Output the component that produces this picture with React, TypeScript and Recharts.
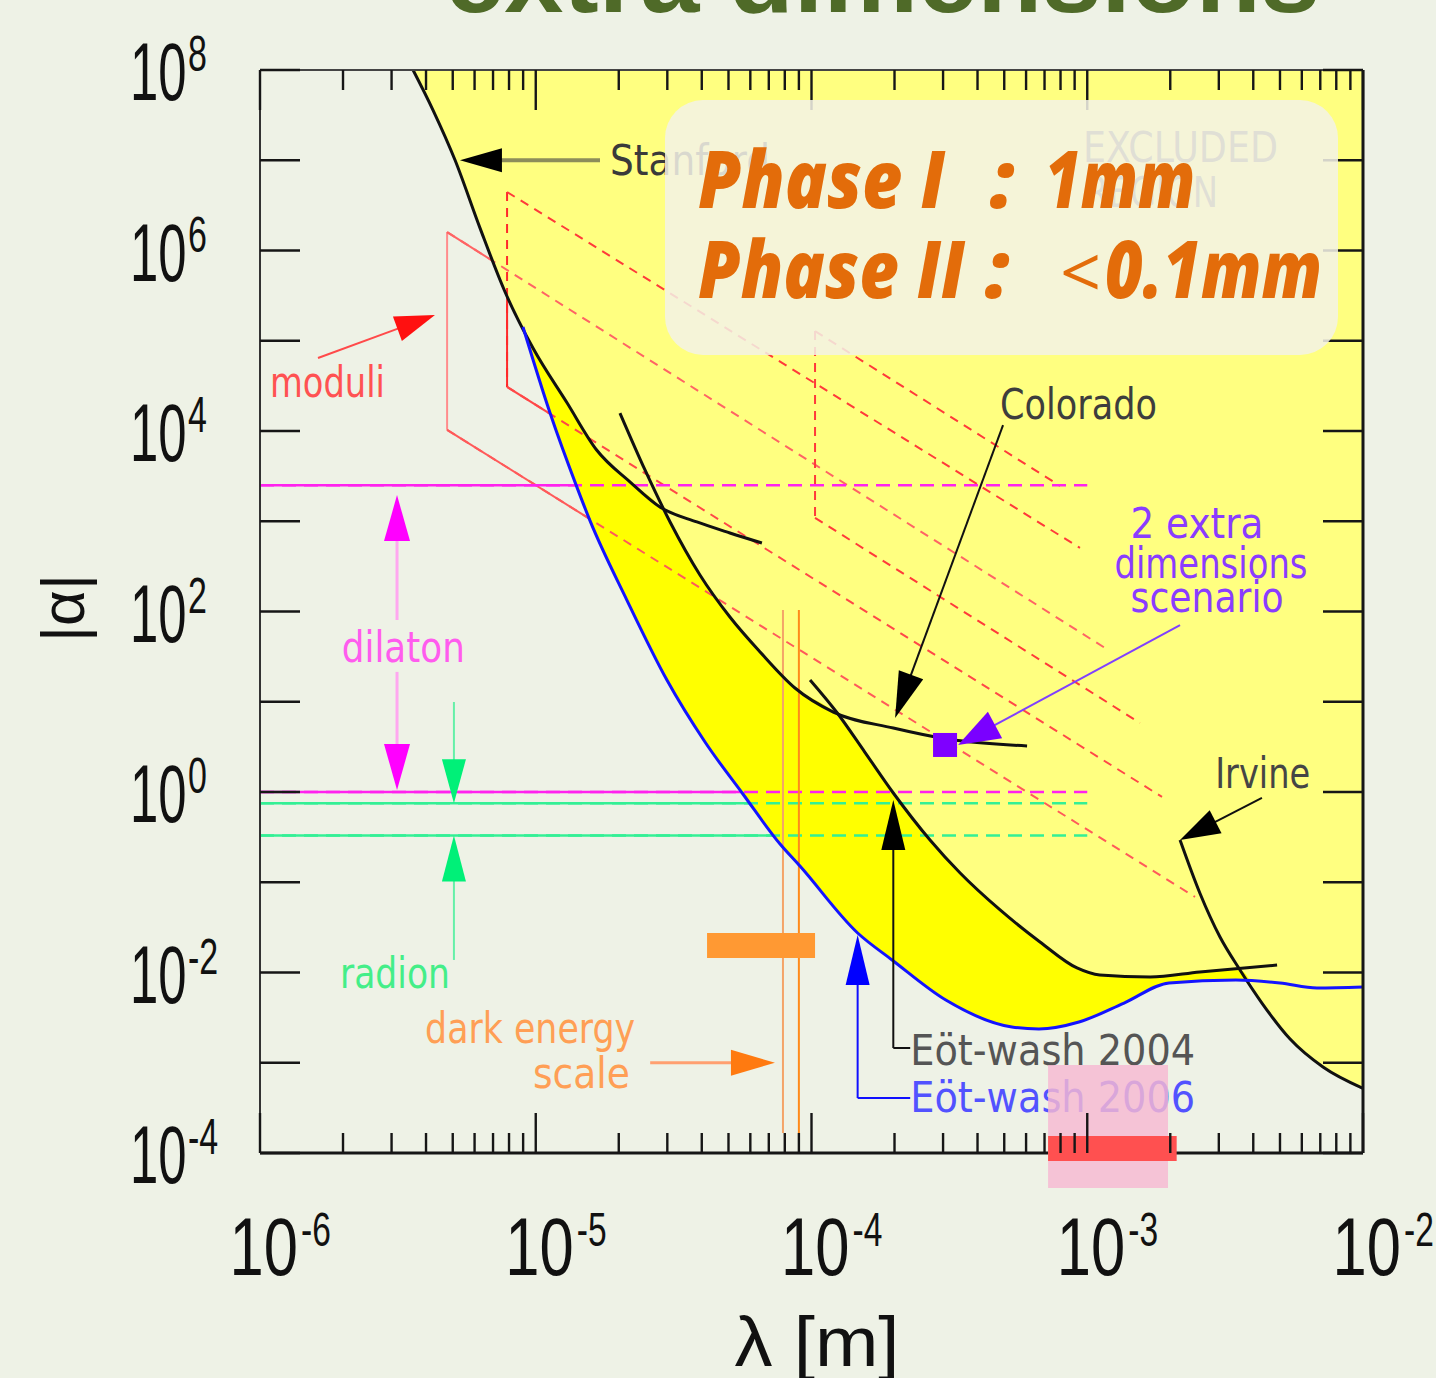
import React from 'react';
import {
  ComposedChart, Line, Area, Scatter, XAxis, YAxis,
  ReferenceLine, ReferenceDot, ReferenceArea,
} from 'recharts';

// ---- limit curves: lambda [m] vs |alpha| ----
const stanfordLam = [3.59e-6, 4.24e-6, 5.10e-6, 6.28e-6, 7.74e-6, 9.77e-6, 1.30e-5, 1.66e-5, 2.20e-5, 2.82e-5, 3.84e-5, 5.06e-5, 6.61e-5];
const stanfordAlpha = [1e8, 3.6e7, 1.0e7, 1.77e6, 3.47e5, 8.3e4, 2.04e4, 6.2e3, 2.72e3, 1.44e3, 982, 741, 574];

const coloradoLam = [2.02e-5, 2.49e-5, 3.07e-5, 3.94e-5, 5.06e-5, 6.51e-5, 8.71e-5, 1.20e-4, 1.98e-4, 3.10e-4, 6.05e-4];
const coloradoAlpha = [1.58e4, 3.70e3, 982, 254, 86.9, 35.6, 14.2, 7.69, 5.12, 3.87, 3.24];

const eotWash04Lam = [9.88e-5, 1.24e-4, 1.56e-4, 1.98e-4, 2.69e-4, 3.46e-4, 4.83e-4, 6.74e-4, 9.18e-4, 1.11e-3, 1.69e-3, 2.56e-3, 4.88e-3];
const eotWash04Alpha = [17.4, 7.5, 2.77, 0.975, 0.294, 0.1265, 0.0493, 0.0218, 0.01122, 0.00938, 0.00891, 0.01014, 0.01211];

const irvineLam = [2.17e-3, 2.56e-3, 3.03e-3, 3.58e-3, 4.30e-3, 5.44e-3, 7.16e-3, 1e-2];
const irvineAlpha = [0.294, 0.076, 0.0247, 0.01067, 0.00459, 0.00183, 8.97e-4, 5.2e-4];

const eotWash06Lam = [8.99e-6, 1.127e-5, 1.41e-5, 1.57e-5, 2.14e-5, 2.99e-5, 4.11e-5, 5.64e-5, 7.69e-5, 9.08e-5, 1.47e-4, 1.96e-4, 3.07e-4, 5.33e-4, 6.68e-4, 9.33e-4, 1.36e-3, 1.98e-3, 3.46e-3, 5.0e-3, 6.81e-3, 1e-2];
const eotWash06Alpha = [1.42e5, 1.58e4, 2.39e3, 1.03e3, 134, 17.4, 3.58, 0.95, 0.265, 0.151, 0.0274, 0.01377, 0.00495, 0.00249, 0.00237, 0.00283, 0.00459, 0.00766, 0.00826, 0.00766, 0.00673, 0.0069];

// lower edge of the previously excluded region (outer envelope of the black curves)
const excludedLam = [3.59e-6, 4.24e-6, 5.10e-6, 6.28e-6, 7.74e-6, 9.77e-6, 1.30e-5, 1.66e-5, 2.20e-5, 2.82e-5, 3.07e-5, 3.94e-5, 5.06e-5, 6.51e-5, 8.71e-5, 1.20e-4, 1.56e-4, 1.98e-4, 2.69e-4, 3.46e-4, 4.83e-4, 6.74e-4, 9.18e-4, 1.11e-3, 1.69e-3, 2.56e-3, 3.03e-3, 3.58e-3, 4.30e-3, 5.44e-3, 7.16e-3, 1e-2];
const excludedAlpha = [1e8, 3.6e7, 1.0e7, 1.77e6, 3.47e5, 8.3e4, 2.04e4, 6.2e3, 2.72e3, 1.44e3, 982, 254, 86.9, 35.6, 14.2, 7.69, 2.77, 0.975, 0.294, 0.1265, 0.0493, 0.0218, 0.01122, 0.00938, 0.00891, 0.01014, 0.0105, 0.01067, 0.00459, 0.00183, 8.97e-4, 5.2e-4];

// 2 extra dimensions scenario point
const scenarioLam = [3.05e-4];
const scenarioAlpha = [3.32];

// theory predictions
const dilatonAlpha = [2.5e3, 1];
const radionAlpha = [0.75, 0.33];
const predictionLamRange = [1e-6, 1e-3];
const darkEnergyLam = [7.88e-5, 9.0e-5];
const darkEnergyAlphaRange = [1.67e-4, 104];

// moduli / 2-extra-dimension band edges
const bandFromLam = [4.77e-6, 4.77e-6, 7.87e-6, 7.87e-6, 7.87e-6, 4.77e-6, 1.03e-4, 1.03e-4, 1.03e-4];
const bandFromAlpha = [1.6e6, 1.6e6, 4.45e6, 4.45e6, 3.08e4, 1.03e4, 1.28e5, 1.28e5, 1.09e3];
const bandToLam = [4.77e-6, 1.16e-3, 7.87e-6, 9.41e-4, 1.867e-3, 2.46e-3, 1.03e-4, 7.97e-4, 1.553e-3];
const bandToAlpha = [1.03e4, 39.4, 3.08e4, 506, 0.881, 0.0687, 1.09e3, 2.46e3, 5.82];

// annotation arrows (tail -> tip)
const arrowFromLam = [1.71e-5, 1.623e-6, 3.14e-6, 3.14e-6, 5.05e-6, 5.05e-6, 2.6e-5, 4.95e-4, 2.17e-3, 4.3e-3, 1.98e-4, 1.47e-4];
const arrowFromAlpha = [1.0e7, 6.44e4, 80.5, 21.4, 9.93, 0.01377, 1.0e-3, 1.16e4, 70.8, 0.859, 1.456e-3, 4.07e-4];
const arrowToLam = [5.31e-6, 4.31e-6, 3.14e-6, 3.14e-6, 5.05e-6, 5.05e-6, 7.37e-5, 2.01e-4, 3.4e-4, 2.17e-3, 1.98e-4, 1.47e-4];
const arrowToAlpha = [1.0e7, 1.93e5, 1.95e3, 1.05, 0.75, 0.33, 1.0e-3, 6.61, 3.32, 0.294, 0.815, 0.0261];

// leaders from the Eot-wash labels
const leaderFromLam = [2.28e-4, 2.28e-4];
const leaderToLam = [1.98e-4, 1.47e-4];
const leaderAlpha = [1.456e-3, 4.07e-4];

// text labels in the plot
const noteText = ['Stanford', 'EXCLUDED', 'REGION', 'Colorado', '2 extra', 'dimensions', 'scenario', 'Irvine', 'Eöt-wash 2004', 'Eöt-wash 2006', 'moduli', 'dilaton', 'radion', 'dark energy', 'scale'];
const noteLam = [1.86e-5, 9.65e-4, 9.81e-4, 4.83e-4, 2.5e-3, 2.81e-3, 2.72e-3, 2.91e-3, 2.28e-4, 2.28e-4, 1.087e-6, 1.98e-6, 1.95e-6, 3.97e-6, 9.77e-6];
const noteAlpha = [6.87e6, 9.57e6, 3.03e6, 1.36e4, 652, 235, 98.6, 1.107, 9.44e-4, 2.85e-4, 2.38e4, 27.5, 6.73e-3, 1.66e-3, 5.25e-4];

// highlight boxes on the slide
const boxLam1 = [4.18e-5, 7.21e-4, 7.21e-4];
const boxLam2 = [1.03e-4, 1.963e-3, 2.11e-3];
const boxAlpha1 = [0.01449, 4.09e-5, 8.15e-5];
const boxAlpha2 = [0.02742, 9.44e-4, 1.54e-4];

// axes
const decadesX = [1e-6, 1e-5, 1e-4, 1e-3, 1e-2];
const decadeXLabels = ['-6', '-5', '-4', '-3', '-2'];
const minorSteps = [2, 3, 4, 5, 6, 7, 8, 9];
const decadesY = [1e8, 1e7, 1e6, 1e5, 1e4, 1e3, 1e2, 1e1, 1, 1e-1, 1e-2, 1e-3, 1e-4];
const decadeYLabels = ['8', '', '6', '', '4', '', '2', '', '0', '', '-2', '', '-4'];

const xTicks = [...decadesX, ...decadesX.slice(0, 4).flatMap((d) => minorSteps.map((m) => m * d))];

const pts = (xs: number[], ys: number[]) => xs.map((x, i) => ({ x, y: ys[i] }));

const W = 1436;
const H = 1378;
// 1px axes on every side -> plot area 260..1363 x 70..1153
const MARGIN = { top: 69, right: 72, bottom: 224, left: 259 };
const FONT = '"DejaVu Sans", "Liberation Sans", sans-serif';
const AXFONT = '"Liberation Sans", Arial, sans-serif';
const TICK = '#161616';

const bandColor = ['#ff8c8c', '#ff6464', '#ff2a2a', '#ff3a3a', '#ff4848', '#ff5a5a', '#ff3a3a', '#ff3a3a', '#ff3a3a'];
const bandDashed = [false, true, true, true, true, true, true, true, true];

const arrowShaft = ['#8d8d5a', '#ff4a4a', '#ffa8f0', '#ffa8f0', '#66f0a8', '#66f0a8', '#ffa070', '#111', '#8040ff', '#111', '#111', '#1010ff'];
const arrowHead = ['#000', '#ff1010', '#ff00ff', '#ff00ff', '#00f078', '#00f078', '#ff7a10', '#000', '#7a00ff', '#000', '#000', '#0000ff'];
const arrowWidth = [4, 2, 3, 3, 2, 2, 3, 2, 2, 2, 2, 2];
const arrowLen = [42, 40, 46, 46, 44, 46, 44, 46, 42, 40, 50, 50];
const arrowHalf = [12, 13, 13, 13, 12, 12, 13, 13, 15, 13, 12, 12];

const noteColor = ['#3a3a3a', '#6a6a6a', '#6a6a6a', '#3d3d3d', '#8a3cff', '#8a3cff', '#8a3cff', '#454545', '#555', '#5252ff', '#ff5252', '#ff5cee', '#44ee88', '#ff9f55', '#ff9f55'];
const noteAnchor = ['start', 'start', 'start', 'start', 'middle', 'middle', 'middle', 'start', 'start', 'start', 'start', 'start', 'start', 'start', 'start'];
const noteWidth = [160, 195, 133, 157, 133, 193, 153, 95, 285, 285, 115, 123, 110, 210, 97];

function BottomTick(props: any) {
  const { x, y, payload } = props;
  const i = decadesX.indexOf(payload.value);
  const major = i >= 0;
  return (
    <g>
      <line x1={x} y1={y} x2={x} y2={y - (major ? 40 : 20)} stroke={TICK} strokeWidth={2.4} />
      {major && (
        <g fill="#111" fontFamily={AXFONT}>
          <text transform={`translate(${x + 38},${y + 122}) scale(0.75,1)`} textAnchor="end" fontSize={82}>10</text>
          <text transform={`translate(${x + 41},${y + 93}) scale(0.7,1)`} fontSize={48}>{decadeXLabels[i]}</text>
        </g>
      )}
    </g>
  );
}

function TopTick(props: any) {
  const { x, y, payload } = props;
  const major = decadesX.indexOf(payload.value) >= 0;
  return <line x1={x} y1={y} x2={x} y2={y + (major ? 40 : 20)} stroke={TICK} strokeWidth={2.4} />;
}

function LeftTick(props: any) {
  const { x, y, payload } = props;
  const lab = decadeYLabels[decadesY.indexOf(payload.value)];
  return (
    <g>
      <line x1={x} y1={y} x2={x + 40} y2={y} stroke={TICK} strokeWidth={2.4} />
      {lab && (
        <g fill="#111" fontFamily={AXFONT}>
          <text transform={`translate(${x - 130},${y + 30}) scale(0.62,1)`} fontSize={82}>10</text>
          <text transform={`translate(${x - 72},${y + 1}) scale(0.68,1)`} fontSize={50}>{lab}</text>
        </g>
      )}
    </g>
  );
}

function RightTick(props: any) {
  const { x, y } = props;
  return <line x1={x} y1={y} x2={x - 40} y2={y} stroke={TICK} strokeWidth={2.4} />;
}

function arrowShape(shaft: string, head: string, width: number, len: number, half: number) {
  return (p: any) => {
    const { x1, y1, x2, y2 } = p;
    const dx = x2 - x1;
    const dy = y2 - y1;
    const L = Math.hypot(dx, dy) || 1;
    const ux = dx / L;
    const uy = dy / L;
    const bx = x2 - ux * len;
    const by = y2 - uy * len;
    return (
      <g>
        <line x1={x1} y1={y1} x2={bx + ux * 2} y2={by + uy * 2} stroke={shaft} strokeWidth={width} />
        <polygon points={`${x2},${y2} ${bx - uy * half},${by + ux * half} ${bx + uy * half},${by - ux * half}`} fill={head} />
      </g>
    );
  };
}

function noteShape(t: string, color: string, anchor: string, len: number) {
  return (p: any) => (
    <text x={p.cx} y={p.cy} fill={color} fontSize={43} fontFamily={FONT} textAnchor={anchor}
      textLength={len} lengthAdjust="spacingAndGlyphs">{t}</text>
  );
}

const squareShape = (p: any) => <rect x={p.cx - 12} y={p.cy - 12} width={24} height={24} fill="#7f00ff" />;

export default function App() {
  const segs = bandFromLam.map((_, i) => [
    { x: bandFromLam[i], y: bandFromAlpha[i] },
    { x: bandToLam[i], y: bandToAlpha[i] },
  ]);
  return (
    <div style={{ position: 'absolute', left: 0, top: 0, width: W, height: H, background: '#eef2e6', overflow: 'hidden' }}>
      <div style={{ position: 'absolute', left: 0, top: 0 }}>
        <ComposedChart width={W} height={H} margin={MARGIN}>
          {/* solid pieces of the theory bands, hidden below the excluded fills */}
          {segs.map((s, i) => (
            <ReferenceLine key={`bs${i}`} segment={s as any} stroke={bandColor[i]} strokeWidth={2} ifOverflow="visible" zIndex={50} />
          ))}
          {dilatonAlpha.map((a, i) => (
            <ReferenceLine key={`ds${i}`} segment={[{ x: predictionLamRange[0], y: a }, { x: predictionLamRange[1], y: a }]} stroke="#ff22ee" strokeWidth={2.5} ifOverflow="visible" zIndex={50} />
          ))}
          {radionAlpha.map((a, i) => (
            <ReferenceLine key={`rs${i}`} segment={[{ x: predictionLamRange[0], y: a }, { x: predictionLamRange[1], y: a }]} stroke="#33f095" strokeWidth={2.5} ifOverflow="visible" zIndex={50} />
          ))}

          <Area data={pts(eotWash06Lam, eotWash06Alpha)} dataKey="y" type="monotone" baseValue={1e8}
            fill="#ffff00" fillOpacity={1} stroke="none" isAnimationActive={false} zIndex={60} />
          <Area data={pts(excludedLam, excludedAlpha)} dataKey="y" type="monotone" baseValue={1e8}
            fill="#ffff80" fillOpacity={1} stroke="none" isAnimationActive={false} zIndex={70} />

          {/* dashed continuation inside the excluded region */}
          {segs.map((s, i) => bandDashed[i] && (
            <ReferenceLine key={`bd${i}`} segment={s as any} stroke={bandColor[i]} strokeWidth={2} strokeDasharray="9 7" ifOverflow="visible" zIndex={200} />
          ))}
          {dilatonAlpha.map((a, i) => (
            <ReferenceLine key={`dd${i}`} segment={[{ x: predictionLamRange[0], y: a }, { x: predictionLamRange[1], y: a }]} stroke="#ff22ee" strokeWidth={2.5} strokeDasharray="14 8" ifOverflow="visible" zIndex={200} />
          ))}
          {radionAlpha.map((a, i) => (
            <ReferenceLine key={`rd${i}`} segment={[{ x: predictionLamRange[0], y: a }, { x: predictionLamRange[1], y: a }]} stroke="#33f095" strokeWidth={2.5} strokeDasharray="14 8" ifOverflow="visible" zIndex={200} />
          ))}
          {darkEnergyLam.map((l, i) => (
            <ReferenceLine key={`de${i}`} segment={[{ x: l, y: darkEnergyAlphaRange[0] }, { x: l, y: darkEnergyAlphaRange[1] }]} stroke={i === 0 ? '#f4a468' : '#ff8a1a'} strokeWidth={2} ifOverflow="visible" zIndex={210} />
          ))}

          <Line data={pts(stanfordLam, stanfordAlpha)} dataKey="y" type="monotone" stroke="#111" strokeWidth={3} dot={false} activeDot={false} isAnimationActive={false} zIndex={300} />
          <Line data={pts(coloradoLam, coloradoAlpha)} dataKey="y" type="monotone" stroke="#111" strokeWidth={3} dot={false} activeDot={false} isAnimationActive={false} zIndex={300} />
          <Line data={pts(eotWash04Lam, eotWash04Alpha)} dataKey="y" type="monotone" stroke="#111" strokeWidth={3} dot={false} activeDot={false} isAnimationActive={false} zIndex={300} />
          <Line data={pts(irvineLam, irvineAlpha)} dataKey="y" type="monotone" stroke="#111" strokeWidth={3} dot={false} activeDot={false} isAnimationActive={false} zIndex={300} />
          <Line data={pts(eotWash06Lam, eotWash06Alpha)} dataKey="y" type="monotone" stroke="#1414ff" strokeWidth={3} dot={false} activeDot={false} isAnimationActive={false} zIndex={310} />

          {leaderFromLam.map((l, i) => (
            <ReferenceLine key={`ld${i}`} segment={[{ x: l, y: leaderAlpha[i] }, { x: leaderToLam[i], y: leaderAlpha[i] }]} stroke={i === 0 ? '#111' : '#1010ff'} strokeWidth={2} ifOverflow="visible" zIndex={400} />
          ))}
          {arrowFromLam.map((l, i) => (
            <ReferenceLine key={`ar${i}`} segment={[{ x: l, y: arrowFromAlpha[i] }, { x: arrowToLam[i], y: arrowToAlpha[i] }]}
              ifOverflow="visible" zIndex={400}
              shape={arrowShape(arrowShaft[i], arrowHead[i], arrowWidth[i], arrowLen[i], arrowHalf[i])} />
          ))}

          {noteText.map((t, i) => (
            <ReferenceDot key={`nt${i}`} x={noteLam[i]} y={noteAlpha[i]} r={0} ifOverflow="visible" zIndex={450}
              shape={noteShape(t, noteColor[i], noteAnchor[i], noteWidth[i])} />
          ))}

          <Scatter data={pts(scenarioLam, scenarioAlpha)} shape={squareShape} isAnimationActive={false} zIndex={460} />

          <ReferenceArea x1={boxLam1[0]} x2={boxLam2[0]} y1={boxAlpha1[0]} y2={boxAlpha2[0]} fill="#ff9933" fillOpacity={1} stroke="none" ifOverflow="visible" zIndex={470} />

          <XAxis dataKey="x" type="number" scale="log" domain={[1e-6, 1e-2]} allowDataOverflow ticks={xTicks} interval={0}
            tick={BottomTick} tickLine={false} tickSize={0} tickMargin={0} height={1}
            axisLine={{ stroke: TICK, strokeWidth: 3 }} zIndex={500} />
          <XAxis xAxisId="top" orientation="top" dataKey="x" type="number" scale="log" domain={[1e-6, 1e-2]} allowDataOverflow ticks={xTicks} interval={0}
            tick={TopTick} tickLine={false} tickSize={0} tickMargin={0} height={1}
            axisLine={{ stroke: '#444', strokeWidth: 2 }} zIndex={500} />
          <YAxis dataKey="y" type="number" scale="log" domain={[1e-4, 1e8]} allowDataOverflow ticks={decadesY} interval={0}
            tick={LeftTick} tickLine={false} tickSize={0} tickMargin={0} width={1}
            axisLine={{ stroke: '#333', strokeWidth: 2 }} zIndex={500} />
          <YAxis yAxisId="right" orientation="right" dataKey="y" type="number" scale="log" domain={[1e-4, 1e8]} allowDataOverflow ticks={decadesY} interval={0}
            tick={RightTick} tickLine={false} tickSize={0} tickMargin={0} width={1}
            axisLine={{ stroke: TICK, strokeWidth: 3 }} zIndex={500} />

          <ReferenceArea x1={boxLam1[1]} x2={boxLam2[1]} y1={boxAlpha1[1]} y2={boxAlpha2[1]} fill="#f6b8d2" fillOpacity={0.82} stroke="none" ifOverflow="visible" zIndex={600} />
          <ReferenceArea x1={boxLam1[2]} x2={boxLam2[2]} y1={boxAlpha1[2]} y2={boxAlpha2[2]} fill="#ff5050" fillOpacity={1} stroke="none" ifOverflow="visible" zIndex={610} />
        </ComposedChart>
      </div>

      <svg width={W} height={H} style={{ position: 'absolute', left: 0, top: 0, pointerEvents: 'none' }}>
        <text x={445} y={12} fill="#4f6a28" fontSize={104} fontWeight={900} fontFamily={AXFONT}
          textLength={875} lengthAdjust="spacingAndGlyphs">extra dimensions</text>

        <text transform="translate(84,608) rotate(-90)" textAnchor="middle" fontSize={62} fill="#111" fontFamily={AXFONT}>|α|</text>
        <text x={817} y={1366} textAnchor="middle" fontSize={70} fill="#111" fontFamily={AXFONT}
          textLength={165} lengthAdjust="spacingAndGlyphs">λ [m]</text>

        <rect x={665} y={100} width={673} height={255} rx={38} fill="#f3f2e6" fillOpacity={0.86} />
        <g fill="#e36c0a" fontFamily='"Open Sans", "Liberation Sans", sans-serif' fontWeight={800} fontStyle="italic" fontSize={80}>
          <text x={698} y={208} textLength={247} lengthAdjust="spacingAndGlyphs">Phase I</text>
          <text x={990} y={208}>:</text>
          <text x={1045} y={208} textLength={150} lengthAdjust="spacingAndGlyphs">1mm</text>
          <text x={698} y={298} textLength={267} lengthAdjust="spacingAndGlyphs">Phase II</text>
          <text x={985} y={298}>:</text>
          <text x={1060} y={298} fontWeight={400} fontStyle="normal" fontSize={72}>&lt;</text>
          <text x={1105} y={298} textLength={217} lengthAdjust="spacingAndGlyphs">0.1mm</text>
        </g>
      </svg>
    </div>
  );
}
